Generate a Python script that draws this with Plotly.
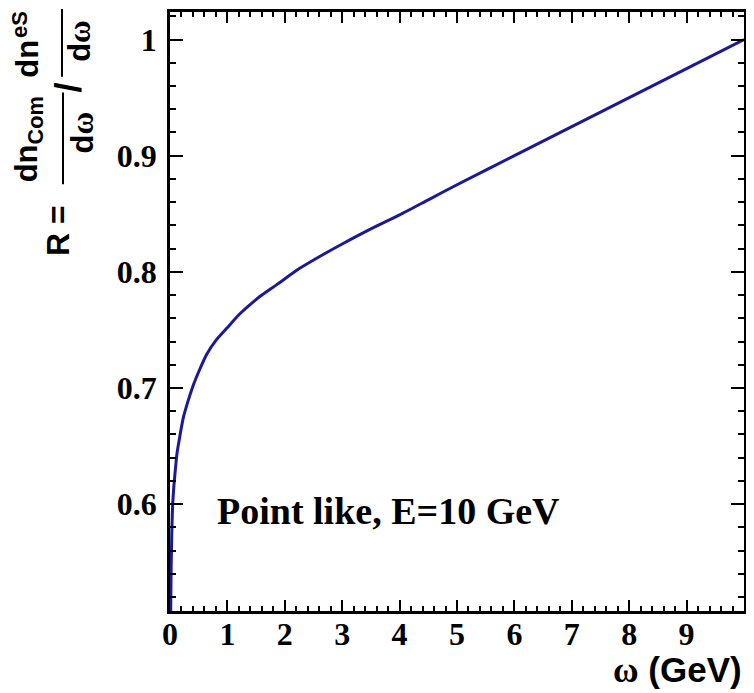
import plotly.graph_objects as go

# ---- data ----
omega = [0.012, 0.02, 0.03, 0.047, 0.07, 0.09, 0.12, 0.17, 0.23, 0.31, 0.41, 0.5,
         0.64, 0.8, 1.0, 1.2, 1.4, 1.6, 1.86, 2.26, 2.6, 3.0, 3.5, 4.0, 4.5, 5.0,
         6.0, 7.0, 8.0, 9.0, 10.0]
ratio = [0.507, 0.545, 0.572, 0.600, 0.617, 0.628, 0.643, 0.658, 0.674, 0.688, 0.703, 0.714,
         0.729, 0.741, 0.752, 0.763, 0.772, 0.780, 0.789, 0.803, 0.813, 0.824, 0.837, 0.849, 0.862, 0.875,
         0.900, 0.925, 0.950, 0.975, 1.000]

x_tickvals = [0, 1, 2, 3, 4, 5, 6, 7, 8, 9]
x_ticktext = ["0", "1", "2", "3", "4", "5", "6", "7", "8", "9"]
y_tickvals = [0.6, 0.7, 0.8, 0.9, 1.0]
y_ticktext = ["0.6", "0.7", "0.8", "0.9", "1"]

X_RANGE = [0, 10]
Y_RANGE = [0.508, 1.0237]

# page has an 8px body margin, so the figure is sized/offset to compensate
OFF = 8
W, H = 754 - OFF, 693 - OFF
L, R_, T, B = 170 - OFF, 10, 9 - OFF, 82
PW, PH = W - L - R_, H - T - B


def px(xpage):
    return (xpage - OFF - L) / PW


def py(ypage):
    return (H - B - (ypage - OFF)) / PH


SERIF = "Liberation Serif"
SANS = "Liberation Sans"

fig = go.Figure()
fig.add_trace(go.Scatter(x=omega, y=ratio, mode="lines",
                         line=dict(color="#1a1a96", width=3, shape="spline", smoothing=0.6),
                         showlegend=False))
# invisible copy on the mirrored (top/right) axes so they get drawn with ticks
fig.add_trace(go.Scatter(x=omega, y=ratio, mode="lines", xaxis="x2", yaxis="y2",
                         line=dict(color="rgba(0,0,0,0)", width=0), showlegend=False,
                         hoverinfo="skip"))

tick_common = dict(ticks="inside", tickcolor="black", tickwidth=2,
                   showgrid=False, zeroline=False)
tfont = dict(family=SERIF, size=32, color="black", weight="bold")
xminor = dict(dtick=0.2, ticklen=5, tickwidth=1.5, tickcolor="black", ticks="inside")
yminor = dict(dtick=0.02, ticklen=6, tickwidth=1.5, tickcolor="black", ticks="inside")

fig.update_layout(
    xaxis=dict(range=X_RANGE, tickvals=x_tickvals, ticktext=x_ticktext, ticklen=11,
               minor=xminor, ticklabelstandoff=-7, tickfont=tfont,
               showline=True, linecolor="black", linewidth=2.5, mirror=True, **tick_common),
    yaxis=dict(range=Y_RANGE, tickvals=y_tickvals, ticktext=y_ticktext, ticklen=13,
               minor=yminor, ticklabelstandoff=4, tickfont=tfont,
               showline=True, linecolor="black", linewidth=2.5, mirror=True, **tick_common),
    xaxis2=dict(range=X_RANGE, tickvals=x_tickvals, ticklen=11, minor=xminor,
                overlaying="x", side="top", anchor="y2", showticklabels=False,
                showline=False, **tick_common),
    yaxis2=dict(range=Y_RANGE, tickvals=y_tickvals, ticklen=13, minor=yminor,
                overlaying="y", side="right", anchor="x2", showticklabels=False,
                showline=False, **tick_common),
)

ann = []
# in-plot label
ann.append(dict(x=px(388), y=py(511), xref="paper", yref="paper", showarrow=False,
                text="Point like, E=10 GeV", xanchor="center", yanchor="middle",
                font=dict(family=SERIF, size=38, color="black", weight="bold")))
# x title
ann.append(dict(x=1.0, y=py(670), xref="paper", yref="paper", showarrow=False,
                text=f'<span style="font-family:{SERIF}">ω</span> (GeV)',
                xanchor="right", yanchor="middle",
                font=dict(family=SANS, size=35, color="black", weight="bold")))
# y title pieces (rotated)
ytitle_font = dict(family=SANS, size=31, color="black", weight="bold")
ann.append(dict(x=px(58), y=py(229), xref="paper", yref="paper", showarrow=False,
                text="R =", textangle=-90, xanchor="center", yanchor="middle",
                font=dict(family=SANS, size=32, color="black", weight="bold")))
ann.append(dict(x=px(29), y=py(137), xref="paper", yref="paper", showarrow=False,
                text="dn<sub>Com</sub>", textangle=-90, xanchor="center", yanchor="middle",
                font=ytitle_font))
ann.append(dict(x=px(82), y=py(130), xref="paper", yref="paper", showarrow=False,
                text=f'd<span style="font-family:{SERIF}">ω</span>', textangle=-90,
                xanchor="center", yanchor="middle", font=ytitle_font))
ann.append(dict(x=px(69), y=py(85), xref="paper", yref="paper", showarrow=False,
                text="/", textangle=-90, xanchor="center", yanchor="middle",
                font=dict(family=SANS, size=36, color="black", weight="bold")))
ann.append(dict(x=px(28), y=py(56), xref="paper", yref="paper", showarrow=False,
                text="dn", textangle=-90, xanchor="center", yanchor="middle",
                font=ytitle_font))
ann.append(dict(x=px(20), y=py(22), xref="paper", yref="paper", showarrow=False,
                text="eS", textangle=-90, xanchor="center", yanchor="middle",
                font=dict(family=SANS, size=22, color="black", weight="bold")))
ann.append(dict(x=px(80), y=py(38), xref="paper", yref="paper", showarrow=False,
                text=f'd<span style="font-family:{SERIF}">ω</span>', textangle=-90,
                xanchor="center", yanchor="middle", font=ytitle_font))

shapes = [
    dict(type="line", xref="paper", yref="paper", x0=px(63), x1=px(63), y0=py(90), y1=py(182),
         line=dict(color="black", width=2)),
    dict(type="line", xref="paper", yref="paper", x0=px(62), x1=px(62), y0=py(6), y1=py(74),
         line=dict(color="black", width=2)),
]

fig.update_layout(width=W, height=H, margin=dict(l=L, r=R_, t=T, b=B),
                  paper_bgcolor="white", plot_bgcolor="white",
                  annotations=ann, shapes=shapes)

fig.write_html("out.html")
